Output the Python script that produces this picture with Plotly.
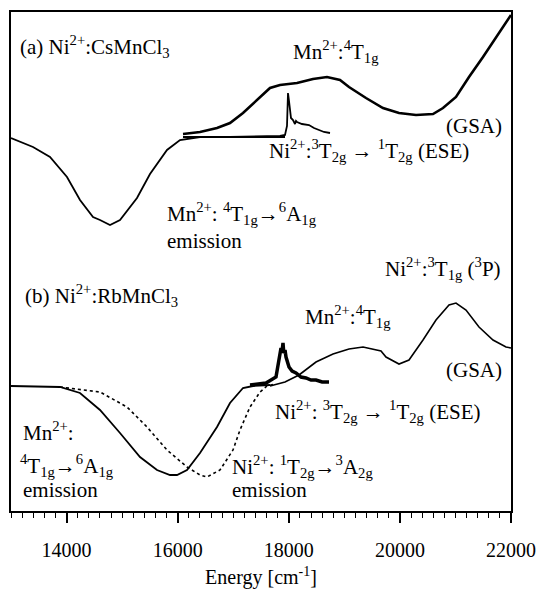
import plotly.graph_objects as go

# ---- data (energy in cm^-1, intensity in arbitrary units) ----
gsa_a_x = [16096, 16402, 16708, 16942, 17176, 17428, 17662, 17842, 18148, 18436, 18688, 18922,
           19084, 19390, 19696, 19984, 20290, 20596, 20776, 21010, 21244, 21496, 21730, 21910, 22000]
gsa_a_y = [377, 379, 383, 388, 398, 411, 423, 426, 428, 432, 434, 431,
           424, 413, 403, 398, 396, 397, 403, 414, 434, 454, 474, 489, 496]

mn_em_a_x = [13000, 13396, 13702, 14008, 14242, 14476, 14602, 14782, 14962, 15268, 15502, 15808,
             16042, 16402, 17000, 17932]
mn_em_a_y = [373, 364, 354, 334, 311, 294, 291, 286, 291, 313, 337, 361, 371, 374, 374, 374]

ese_a_x = [16096, 16942, 17842, 17932, 17968, 17986, 18004, 18022, 18040, 18076, 18112, 18130,
           18148, 18238, 18364, 18454, 18544, 18634, 18742]
ese_a_y = [374, 374, 375, 376, 385, 418, 410, 401, 393, 391, 387, 390,
           389, 387, 386, 383, 381, 379, 378]

gsa_b_x = [17662, 17932, 18184, 18490, 18796, 19084, 19336, 19570, 19660, 19750, 19984, 20164,
           20416, 20650, 20884, 21010, 21190, 21424, 21676, 21910, 22000]
gsa_b_y = [125, 129, 136, 149, 157, 162, 164, 161, 160, 154, 147, 151,
           171, 191, 206, 208, 201, 184, 171, 164, 163]

mn_em_b_x = [13000, 13882, 14242, 14602, 14962, 15322, 15628, 15862, 15988, 16168, 16402, 16708,
             16942, 17176, 17356, 17662]
mn_em_b_y = [125, 124, 118, 101, 78, 54, 41, 36, 36, 41, 58, 84, 108, 123, 125, 126]

ni_em_b_x = [13882, 14602, 15088, 15448, 15808, 16168, 16402, 16528, 16762, 16996, 17122, 17302,
             17482, 17608, 17752]
ni_em_b_y = [124, 119, 104, 84, 61, 44, 36, 34, 41, 61, 81, 104, 119, 125, 127]

ese_b_x = [17302, 17590, 17770, 17824, 17860, 17880, 17896, 17910, 17932, 17950, 18004, 18060,
           18130, 18220, 18310, 18400, 18490, 18600, 18724]
ese_b_y = [126, 128, 134, 154, 163, 160, 168, 158, 161, 154, 144, 140,
           138, 134, 133, 131, 131, 129, 129]

major_ticks = [14000, 16000, 18000, 20000, 22000]
major_labels = ["14000", "16000", "18000", "20000", "22000"]

FONT = "Liberation Serif, Times New Roman, Times, serif"
K = "black"

fig = go.Figure()
fig.add_trace(go.Scatter(x=gsa_a_x, y=gsa_a_y, mode="lines", line=dict(color=K, width=2.6)))
fig.add_trace(go.Scatter(x=mn_em_a_x, y=mn_em_a_y, mode="lines", line=dict(color=K, width=1.8)))
fig.add_trace(go.Scatter(x=ese_a_x, y=ese_a_y, mode="lines", line=dict(color=K, width=1.8)))
fig.add_trace(go.Scatter(x=gsa_b_x, y=gsa_b_y, mode="lines", line=dict(color=K, width=1.6)))
fig.add_trace(go.Scatter(x=mn_em_b_x, y=mn_em_b_y, mode="lines", line=dict(color=K, width=1.8)))
fig.add_trace(go.Scatter(x=ni_em_b_x, y=ni_em_b_y, mode="lines", line=dict(color=K, width=1.6, dash="dot")))
fig.add_trace(go.Scatter(x=ese_b_x, y=ese_b_y, mode="lines", line=dict(color=K, width=3.5)))

anns = [
    ("(a) Ni<sup>2+</sup>:CsMnCl<sub>3</sub>", 13126, 465, "left"),
    ("Mn<sup>2+</sup>:<sup>4</sup>T<sub>1g</sub>", 18850, 460, "center"),
    ("(GSA)", 21874, 385, "right"),
    ("Ni<sup>2+</sup>:<sup>3</sup>T<sub>2g</sub> \u2192 <sup>1</sup>T<sub>2g</sub> (ESE)", 17608, 361, "left"),
    ("Mn<sup>2+</sup>: <sup>4</sup>T<sub>1g</sub>\u2192<sup>6</sup>A<sub>1g</sub>", 15772, 298, "left"),
    ("emission", 15772, 270, "left"),
    ("(b) Ni<sup>2+</sup>:RbMnCl<sub>3</sub>", 13216, 216, "left"),
    ("Ni<sup>2+</sup>:<sup>3</sup>T<sub>1g</sub> (<sup>3</sup>P)", 21856, 243, "right"),
    ("Mn<sup>2+</sup>:<sup>4</sup>T<sub>1g</sub>", 18256, 195, "left"),
    ("(GSA)", 21874, 141, "right"),
    ("Ni<sup>2+</sup>: <sup>3</sup>T<sub>2g</sub> \u2192 <sup>1</sup>T<sub>2g</sub> (ESE)", 17716, 100, "left"),
    ("Ni<sup>2+</sup>: <sup>1</sup>T<sub>2g</sub>\u2192<sup>3</sup>A<sub>2g</sub>", 16942, 45, "left"),
    ("emission", 16942, 21, "left"),
    ("Mn<sup>2+</sup>:", 13180, 80, "left"),
    ("<sup>4</sup>T<sub>1g</sub>\u2192<sup>6</sup>A<sub>1g</sub>", 13126, 46, "left"),
    ("emission", 13180, 21, "left"),
]
for text, x, y, xa in anns:
    fig.add_annotation(text=text, x=x, y=y, xref="x", yref="y", xanchor=xa, yanchor="middle",
                       showarrow=False, font=dict(family=FONT, size=21, color=K))

fig.update_layout(
    width=536, height=589,
    margin=dict(l=11, r=25, t=12, b=78, autoexpand=False),
    paper_bgcolor="white", plot_bgcolor="white",
    showlegend=False,
    font=dict(family=FONT, color=K),
)
fig.update_xaxes(
    range=[13000, 22000], showgrid=False, zeroline=False, automargin=False,
    showline=True, linecolor=K, linewidth=2, mirror=True,
    tickmode="array", tickvals=major_ticks, ticktext=major_labels,
    ticks="outside", ticklen=10, tickwidth=1.5, tickcolor=K,
    tickfont=dict(family=FONT, size=20, color=K), ticklabelstandoff=10,
    minor=dict(dtick=200, tick0=13000, ticks="outside", ticklen=5, tickwidth=1.2, tickcolor=K, showgrid=False),
    title=dict(text="Energy [cm<sup>-1</sup>]", font=dict(family=FONT, size=20, color=K), standoff=10),
)
fig.update_yaxes(
    range=[0, 499], showgrid=False, zeroline=False, showticklabels=False, ticks="", automargin=False,
    showline=True, linecolor=K, linewidth=1.5, mirror=True,
)

fig.write_html("out.html")
